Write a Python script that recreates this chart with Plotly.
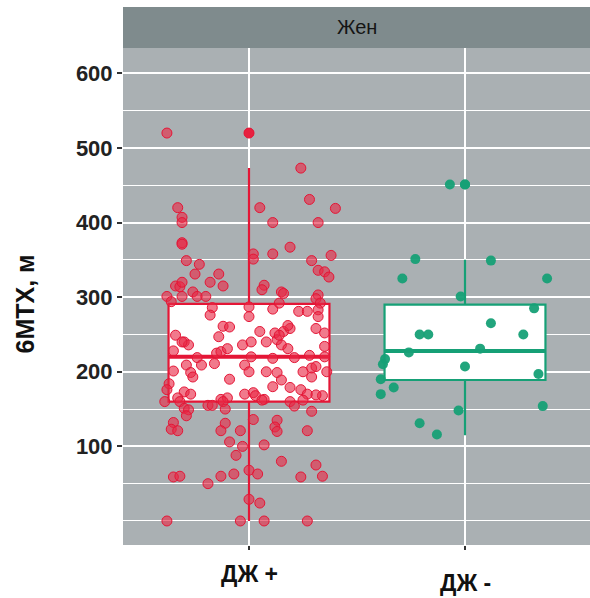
import plotly.graph_objects as go

# ---- data ----
categories = ["ДЖ +", "ДЖ -"]
facet_label = "Жен"
y_title = "6MTX, м"
y_ticks = [100, 200, 300, 400, 500, 600]
y_minor = [0, 50, 150, 250, 350, 450, 550]

# box statistics per category
q1 = [160, 189]
median = [220, 228]
q3 = [291, 290]
lower_whisker = [0, 115]
upper_whisker = [473, 350]
outliers_pos = [520]
outliers_neg = [451]

# jittered observations: value and horizontal jitter offset
pos_values = [520, 520, 473, 420, 407, 400, 420, 400, 431, 419, 400, 373, 371, 349, 344, 331, 331, 320, 315,
              358, 351, 358, 367, 349, 356, 336, 334, 327, 315, 314, 320, 301, 301, 307, 301, 301, 316, 310,
              307, 305, 292, 303, 298, 292, 294, 286, 276, 287, 274, 284, 281, 281, 283, 274, 261, 260, 247,
              249, 254, 252, 254, 258, 258, 252, 240, 236, 236, 240, 240, 243, 236, 231, 228, 225, 227, 231,
              219, 220, 218, 219, 222, 201, 209, 209, 211, 209, 200, 200, 199, 200, 205, 207, 200, 199, 193,
              190, 189, 193, 184, 180, 179, 176, 176, 173, 170, 170, 172, 168, 170, 168, 165, 163, 165, 163,
              160, 160, 155, 155, 160, 162, 160, 154, 162, 151, 149, 150, 147, 141, 136, 132, 123, 121, 131,
              121, 121, 135, 126, 120, 121, 106, 100, 102, 88, 80, 75, 59, 60, 50, 60, 63, 68, 63, 59, 60, 29,
              24, 0, 0, 0, 0, 262, 249, 234, 220, 169, 240]
pos_jitter = [-0.38, 0.00, 0.24, -0.33, -0.31, -0.31, 0.05, 0.11, 0.28, 0.40, 0.32, -0.31, -0.31, -0.29, -0.23,
              -0.25, -0.14, -0.18, -0.12, 0.02, 0.02, 0.11, 0.19, 0.29, 0.38, 0.32, 0.35, 0.37, -0.34, -0.32,
              -0.31, -0.38, -0.31, -0.26, -0.24, -0.20, 0.07, 0.06, 0.15, 0.16, 0.14, 0.32, 0.31, 0.33, -0.36,
              -0.17, -0.18, 0.00, 0.00, 0.11, 0.23, 0.27, 0.32, 0.32, -0.12, -0.09, -0.14, -0.34, 0.05, 0.12,
              0.16, 0.19, 0.31, 0.35, -0.30, -0.28, -0.03, 0.01, 0.08, 0.13, 0.15, 0.18, -0.35, -0.15, -0.13,
              -0.10, -0.24, 0.01, 0.11, 0.21, 0.28, -0.35, -0.29, -0.22, -0.16, -0.02, 0.00, 0.08, 0.13, 0.25,
              0.29, 0.31, 0.36, -0.27, -0.26, -0.09, 0.15, 0.29, -0.37, 0.11, 0.19, -0.38, 0.24, -0.30, -0.27,
              -0.02, 0.02, 0.03, 0.27, 0.34, -0.33, -0.13, -0.10, 0.07, -0.39, -0.32, -0.19, -0.17, -0.12, 0.06,
              0.19, 0.21, 0.25, -0.30, -0.28, -0.11, 0.29, -0.29, 0.02, -0.35, -0.36, -0.33, -0.11, -0.13, -0.04,
              0.13, 0.12, 0.13, 0.27, -0.09, -0.03, 0.07, -0.06, 0.15, 0.31, -0.35, -0.32, -0.19, -0.13, -0.07,
              0.00, 0.04, 0.24, 0.34, 0.00, 0.05, -0.38, -0.04, 0.07, 0.27, 0.18, 0.14, 0.35, 0.35, 0.31, -0.31]

neg_values = [451, 451, 351, 349, 325, 325, 301, 285, 265, 250, 250, 250, 226, 231, 217, 210, 207, 197, 190,
              179, 170, 154, 148, 131, 116]
neg_jitter = [-0.07, 0.00, -0.23, 0.12, -0.29, 0.38, -0.02, 0.32, 0.12, -0.21, -0.17, 0.27, -0.26, 0.07, -0.37,
              -0.38, 0.00, 0.34, -0.39, -0.33, -0.39, 0.36, -0.03, -0.21, -0.13]

# ---- styles ----
RED = "rgb(228,22,54)"
RED_FILL = "rgba(232,40,70,0.62)"
GREEN = "rgb(22,160,118)"
PANEL = "#aab0b3"
STRIP = "#7f8b8d"
FONT = "Liberation Sans, Arial, sans-serif"

PANEL_H = 497  # px
STRIP_H = 41

fig = go.Figure()
colors = [RED, GREEN]
for i in range(2):
    fig.add_trace(go.Box(
        x=[i + 1], q1=[q1[i]], median=[median[i]], q3=[q3[i]],
        lowerfence=[lower_whisker[i]], upperfence=[upper_whisker[i]],
        width=0.745, whiskerwidth=0, fillcolor="white",
        line=dict(color=colors[i], width=2.2), boxpoints=False,
        showlegend=False, hoverinfo="skip"))
    # thicker median line like ggplot
    fig.add_trace(go.Scatter(
        x=[i + 1 - 0.3725, i + 1 + 0.3725], y=[median[i], median[i]], mode="lines",
        line=dict(color=colors[i], width=4), showlegend=False, hoverinfo="skip"))

# outliers
fig.add_trace(go.Scatter(x=[1] * len(outliers_pos), y=outliers_pos, mode="markers",
                         marker=dict(color=RED, size=10), showlegend=False))
fig.add_trace(go.Scatter(x=[2] * len(outliers_neg), y=outliers_neg, mode="markers",
                         marker=dict(color=GREEN, size=10), showlegend=False))

# jittered points
fig.add_trace(go.Scatter(x=[1 + j for j in pos_jitter], y=pos_values, mode="markers",
                         marker=dict(color=RED_FILL, size=10, line=dict(color=RED, width=1)),
                         showlegend=False))
fig.add_trace(go.Scatter(x=[2 + j for j in neg_jitter], y=neg_values, mode="markers",
                         marker=dict(color=GREEN, size=10, opacity=0.95, line=dict(width=0)),
                         showlegend=False))

# facet strip
fig.add_shape(type="rect", xref="paper", yref="paper", x0=0, x1=1, y0=1.0, y1=1.0 + STRIP_H / PANEL_H,
              fillcolor=STRIP, line=dict(width=0), layer="below")
fig.add_annotation(text=facet_label, xref="paper", yref="paper", x=0.5, y=1.0 + (STRIP_H / 2) / PANEL_H,
                   showarrow=False, font=dict(family=FONT, size=20, color="#151515"),
                   xanchor="center", yanchor="middle")

# x category labels (ggplot-like placement)
label_dy = [-29, -38]
for i, c in enumerate(categories):
    fig.add_annotation(text=f"<b>{c}</b>", x=i + 1, xref="x", y=0, yref="paper", yshift=label_dy[i],
                       showarrow=False, yanchor="middle",
                       font=dict(family=FONT, size=23, color="#111"))

# y axis title
fig.add_annotation(text=f"<b>{y_title}</b>", xref="paper", yref="paper", x=0, y=0.5,
                   xshift=-99, yshift=-8, textangle=-90, showarrow=False,
                   xanchor="center", yanchor="middle",
                   font=dict(family=FONT, size=25, color="#111"))

fig.update_layout(
    width=590, height=598,
    margin=dict(l=123, r=0, t=48, b=53, autoexpand=False),
    paper_bgcolor="white", plot_bgcolor=PANEL,
    font=dict(family=FONT),
    xaxis=dict(range=[1 - 126 / 216, 2 + 125 / 216], tickvals=[1, 2], ticktext=["", ""],
               showgrid=True, gridcolor="white", gridwidth=1.6, zeroline=False,
               ticks="outside", ticklen=4, tickcolor="#333", tickwidth=1.5, showline=False),
    yaxis=dict(range=[-32.2, 634], tickvals=y_ticks, ticktext=[f"<b>{v}</b>" for v in y_ticks],
               showgrid=True, gridcolor="white", gridwidth=1.6, zeroline=False,
               ticks="outside", ticklen=5, tickcolor="#333", tickwidth=1.5,
               tickfont=dict(family=FONT, size=22, color="#222"),
               minor=dict(tickvals=y_minor, showgrid=True, gridcolor="white", gridwidth=1.2, ticks="")),
)

fig.write_html("out.html", config={"displayModeBar": False},
               post_script="document.body.style.margin='0';document.body.style.overflow='hidden';")
